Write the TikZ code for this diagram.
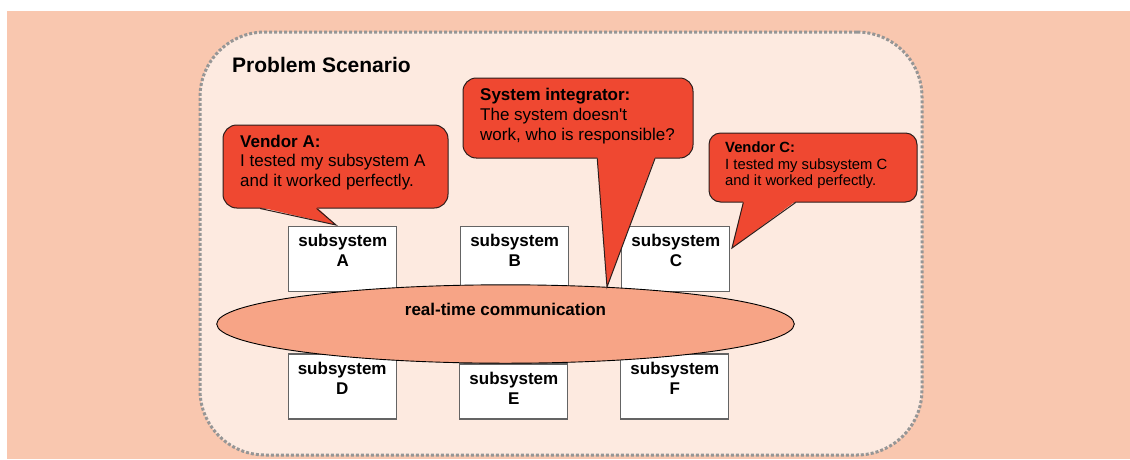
\documentclass[tikz,border=0pt]{standalone}
\usepackage{fontspec}
\setmainfont{Liberation Sans}
\usetikzlibrary{shapes.geometric,calc}

\definecolor{outerbg}{RGB}{249,199,175}
\definecolor{innerbg}{RGB}{253,234,224}
\definecolor{dotgray}{RGB}{150,150,150}
\definecolor{bubblered}{RGB}{239,72,49}
\definecolor{busfill}{RGB}{247,164,134}
\definecolor{boxline}{RGB}{100,100,100}
\definecolor{inkline}{RGB}{45,30,28}

\tikzset{
  scenario/.style={draw=dotgray, line width=3pt, dash pattern=on 3pt off 2pt,
    fill=innerbg, rounded corners=65pt, minimum width=722pt, minimum height=423pt, inner sep=0pt},
  titletext/.style={font=\fontsize{21}{25}\selectfont\bfseries, inner sep=0pt, text=black},
  sbox/.style={draw=boxline, line width=1.1pt, fill=white, minimum width=108pt, inner sep=0pt},
  stext/.style={font=\fontsize{17}{20}\selectfont\bfseries, align=center, inner sep=0pt, text=black},
  bus/.style={ellipse, draw=black, line width=0.9pt, fill=busfill, inner sep=0pt,
    minimum width=577.6pt, minimum height=78.4pt},
  bubble/.style={draw=inkline, line width=1pt, fill=bubblered, inner sep=0pt},
  tailfill/.style={fill=bubblered},
  tailline/.style={draw=inkline, line width=1pt, line join=miter},
  btext/.style={align=left, inner sep=0pt, text=black},
}

\begin{document}
\begin{tikzpicture}[x=1pt, y=-1pt]
  \useasboundingbox (0,0) rectangle (1130,459);
  % page background
  \fill[outerbg] (7,11) rectangle (1130,459);

  % scenario frame
  \node[scenario] (frame) at (561,243.5) {};
  \node[titletext, anchor=base west] (title) at (232,72.7) {Problem Scenario};

  % subsystems above the bus
  \node[sbox, minimum height=65pt] (sA) at (342.8,259.2) {};
  \node[sbox, minimum height=65pt] (sB) at (514.7,259.2) {};
  \node[sbox, minimum height=65pt] (sC) at (675.9,259.2) {};
  % subsystems below the bus
  \node[sbox, minimum height=65pt] (sD) at (342.2,386.5) {};
  \node[sbox, minimum height=55pt] (sE) at (513.9,391.5) {};
  \node[sbox, minimum height=65pt] (sF) at (674.9,386.5) {};

  % labels: the base anchor sits on the last line
  \node[stext, anchor=base] (tA) at (342.8,266.7) {subsystem\\A};
  \node[stext, anchor=base] (tB) at (514.7,266.7) {subsystem\\B};
  \node[stext, anchor=base] (tC) at (675.9,266.7) {subsystem\\C};
  \node[stext, anchor=base] (tD) at (342.2,394.3) {subsystem\\D};
  \node[stext, anchor=base] (tE) at (513.9,404.3) {subsystem\\E};
  \node[stext, anchor=base] (tF) at (674.9,394.3) {subsystem\\F};

  % communication bus
  \node[bus] (bus) at (505.5,324) {};
  \node[stext, anchor=base] (busname) at (505.5,315) {real-time communication};

  % speech bubbles
  \node[bubble, rounded corners=13.8pt, minimum width=225pt, minimum height=83pt] (va) at (335.5,166.5) {};
  \node[bubble, rounded corners=13.3pt, minimum width=230pt, minimum height=80pt] (si) at (578,118) {};
  \node[bubble, rounded corners=11.5pt, minimum width=208pt, minimum height=69pt] (vc) at (813,167.5) {};

  \coordinate (vatip) at (336,225);
  \coordinate (sitip) at (607,287);
  \coordinate (vctip) at (732,248);

  \coordinate (va1) at ($(va.south west)!2/12!(va.south east)$);
  \coordinate (va2) at ($(va.south west)!5/12!(va.south east)$);
  \coordinate (si1) at ($(si.south west)!7/12!(si.south east)$);
  \coordinate (si2) at ($(si.south west)!10/12!(si.south east)$);
  \coordinate (vc1) at ($(vc.south west)!2/12!(vc.south east)$);
  \coordinate (vc2) at ($(vc.south west)!5/12!(vc.south east)$);

  \foreach \b in {va,si,vc}{
    \fill[tailfill] ($(\b1)+(0,-1.3)$) -- (\b tip) -- ($(\b2)+(0,-1.3)$) -- cycle;
    \draw[tailline] (\b1) -- (\b tip) -- (\b2);
  }

  \node[btext, font=\fontsize{17}{19.2}\selectfont, anchor=base west] (vatext) at (240,186.1)
    {\textbf{Vendor A:}\\I tested my subsystem A\\and it worked perfectly.};
  \node[btext, font=\fontsize{17}{20}\selectfont, anchor=base west] (sitext) at (480,140.7)
    {\textbf{System integrator:}\\The system doesn\textquotesingle t\\work, who is responsible?};
  \node[btext, font=\fontsize{14.8}{16.5}\selectfont, anchor=base west] (vctext) at (725,185.7)
    {\textbf{Vendor C:}\\I tested my subsystem C\\and it worked perfectly.};
\end{tikzpicture}
\end{document}
